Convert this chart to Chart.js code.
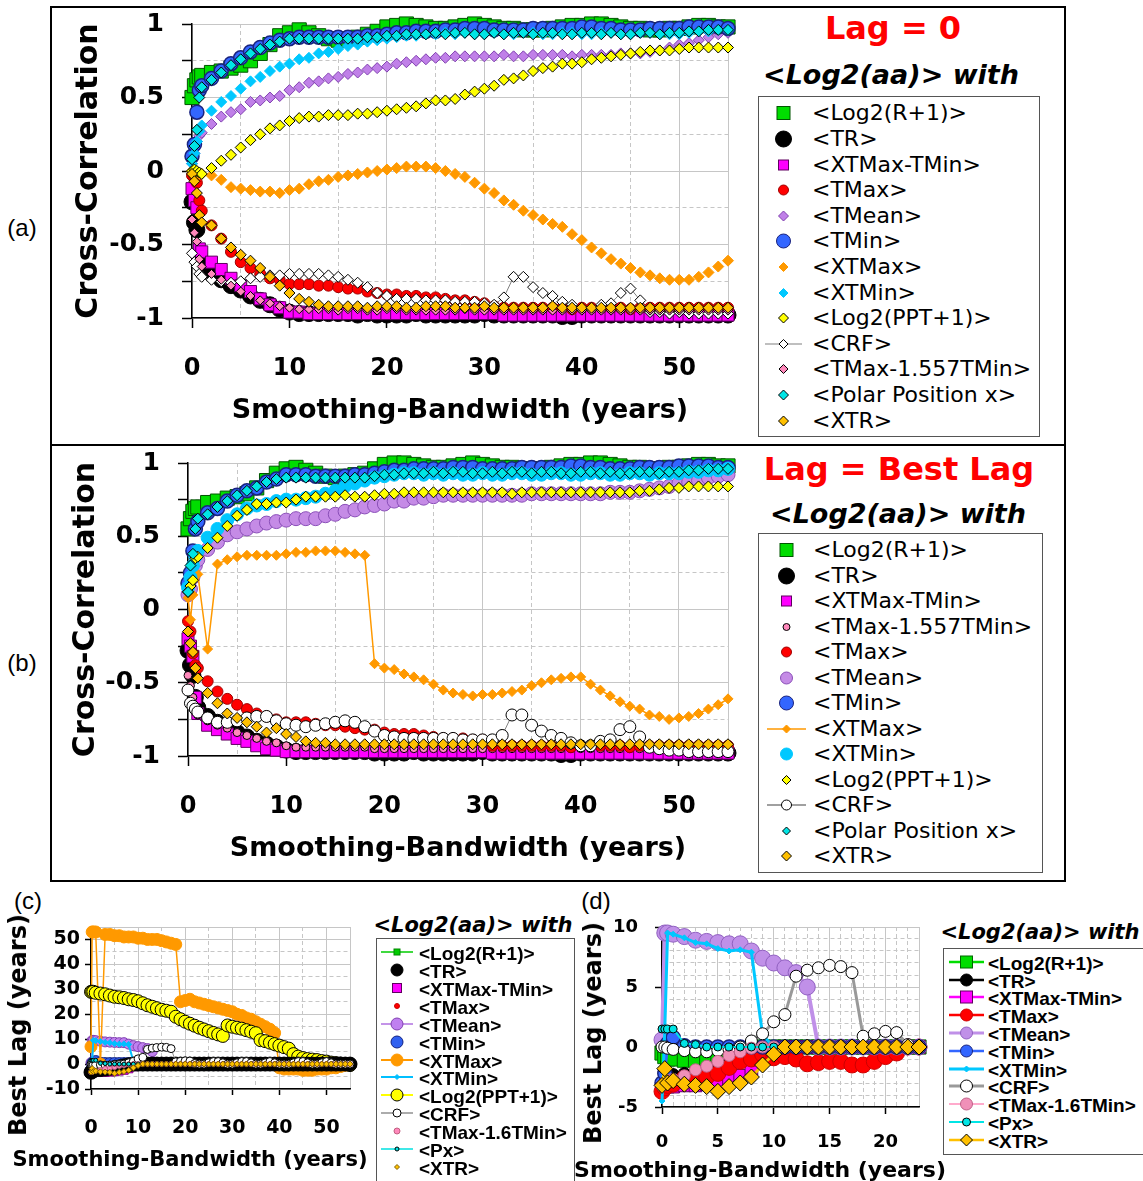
<!DOCTYPE html>
<html><head><meta charset="utf-8">
<script src="https://cdn.jsdelivr.net/npm/chart.js@4.4.0/dist/chart.umd.min.js"></script>
<style>
html,body{margin:0;padding:0;background:#fff;}
body{width:1143px;height:1181px;overflow:hidden;position:relative;font-family:'DejaVu Sans',sans-serif;}
canvas{position:absolute;}
.abs{position:absolute;white-space:nowrap;color:#000;}
.lbox{position:absolute;border:1.5px solid #555;box-sizing:border-box;}
</style></head><body>
<div class="abs" style="left:50px;top:6px;width:1016px;height:876px;border:2px solid #000;box-sizing:border-box;"></div>
<div class="abs" style="left:50px;top:444px;width:1016px;height:2px;background:#000;"></div>
<script>
// ---------------- DATA ----------------
const X_AB = [0,0.25,0.5,0.75,1,2,3,4,5,6,7,8,9,10,11,12,13,14,15,16,17,18,19,20,21,22,23,24,25,26,27,28,29,30,31,32,33,34,35,36,37,38,39,40,41,42,43,44,45,46,47,48,49,50,51,52,53,54,55];
const X_CD = [0,0.25,0.5,1,2,3,4,5,6,7,8,9,10,11,12,13,14,15,16,17,18,19,20,21,22,23,24,25,26,27,28,29,30,31,32,33,34,35,36,37,38,39,40,41,42,43,44,45,46,47,48,49,50,51,52,53,54,55];

// (a) Lag = 0
const A_R = [0.50,0.58,0.62,0.64,0.65, 0.67,0.68,0.70,0.72,0.75,0.80,0.86,0.92,0.94, 0.96,0.94,0.92,0.90,0.89,0.90,0.91,0.93,0.95,0.98, 0.99,1.00,0.99,0.98,0.97,0.97,0.98,0.99,1.00,0.99, 0.98,0.97,0.97,0.96,0.96,0.96,0.97,0.98,0.99,0.99, 1.00,1.00,0.99,0.98,0.97,0.97,0.96,0.96,0.97,0.97, 0.98,0.99,0.99,0.98,0.98];
const A_TR = [-0.21,-0.35,-0.40,-0.58,-0.63, -0.70,-0.74,-0.78,-0.81,-0.85,-0.88,-0.91,-0.94,-0.96, -0.97,-0.97,-0.97,-0.97,-0.97,-0.97,-0.98,-0.97,-0.98,-0.98, -0.98,-0.98,-0.97,-0.98,-0.98,-0.98,-0.98,-0.98,-0.98,-0.97, -0.98,-0.98,-0.98,-0.98,-0.98,-0.98,-0.98,-0.99,-0.99,-0.98, -0.98,-0.98,-0.98,-0.98,-0.98,-0.98,-0.98,-0.98,-0.98,-0.98, -0.98,-0.98,-0.98,-0.98,-0.98];
const A_XTMT = [-0.12,-0.20,-0.25,-0.53,-0.55, -0.62,-0.67,-0.73,-0.78,-0.82,-0.87,-0.91,-0.93,-0.96, -0.96,-0.97,-0.97,-0.97,-0.97,-0.97,-0.97,-0.97,-0.97,-0.97, -0.97,-0.97,-0.97,-0.97,-0.97,-0.97,-0.97,-0.97,-0.97,-0.97, -0.97,-0.98,-0.98,-0.98,-0.98,-0.98,-0.98,-0.98,-0.98,-0.98, -0.98,-0.98,-0.98,-0.98,-0.98,-0.98,-0.98,-0.98,-0.98,-0.98, -0.98,-0.98,-0.98,-0.98,-0.98];
const A_TMAX = [-0.03,-0.05,-0.08,-0.20,-0.27, -0.37,-0.46,-0.55,-0.62,-0.66,-0.70,-0.73,-0.74,-0.77, -0.77,-0.77,-0.78,-0.78,-0.79,-0.80,-0.80,-0.82,-0.83,-0.84, -0.84,-0.85,-0.85,-0.86,-0.86,-0.87,-0.88,-0.88,-0.89,-0.90, -0.92,-0.93,-0.93,-0.93,-0.93,-0.93,-0.93,-0.93,-0.94,-0.93, -0.93,-0.93,-0.93,-0.93,-0.94,-0.93,-0.93,-0.93,-0.93,-0.93, -0.93,-0.93,-0.93,-0.93,-0.93];
const A_TMEAN = [0.05,0.12,0.20,0.24,0.26, 0.32,0.37,0.40,0.42,0.47,0.48,0.50,0.51,0.55, 0.57,0.60,0.61,0.63,0.64,0.66,0.67,0.69,0.70,0.71, 0.73,0.74,0.75,0.76,0.77,0.77,0.78,0.78,0.78,0.78, 0.78,0.79,0.78,0.78,0.79,0.79,0.79,0.79,0.78,0.79, 0.79,0.79,0.79,0.80,0.80,0.80,0.81,0.82,0.84,0.86, 0.87,0.89,0.91,0.93,0.94];
const A_TMIN = [0.10,0.18,0.40,0.55,0.58, 0.63,0.68,0.73,0.77,0.81,0.84,0.87,0.89,0.90, 0.91,0.91,0.91,0.91,0.91,0.91,0.91,0.92,0.92,0.93, 0.94,0.94,0.95,0.95,0.95,0.96,0.96,0.97,0.97,0.97, 0.96,0.96,0.96,0.96,0.97,0.97,0.97,0.97,0.97,0.98, 0.98,0.97,0.97,0.96,0.96,0.96,0.97,0.97,0.97,0.97, 0.98,0.98,0.98,0.98,0.97];
const A_XTMAX = [0.00,0.00,-0.01,-0.02,-0.02, -0.03,-0.06,-0.11,-0.12,-0.13,-0.14,-0.14,-0.15,-0.13, -0.12,-0.09,-0.07,-0.06,-0.04,-0.03,-0.02,-0.01,0.00,0.01, 0.02,0.03,0.03,0.03,0.02,0.00,-0.02,-0.04,-0.08,-0.12, -0.15,-0.20,-0.23,-0.27,-0.30,-0.33,-0.36,-0.38,-0.43,-0.47, -0.52,-0.56,-0.60,-0.63,-0.66,-0.69,-0.71,-0.73,-0.74,-0.74, -0.74,-0.72,-0.69,-0.65,-0.61];
const A_XTMIN = [0.05,0.12,0.20,0.27,0.31, 0.41,0.47,0.51,0.56,0.61,0.64,0.68,0.71,0.73, 0.76,0.77,0.80,0.81,0.83,0.85,0.86,0.88,0.89,0.90, 0.91,0.92,0.92,0.93,0.93,0.94,0.93,0.94,0.93,0.93, 0.94,0.93,0.93,0.94,0.94,0.93,0.93,0.94,0.94,0.93, 0.93,0.94,0.94,0.93,0.93,0.94,0.94,0.93,0.93,0.93, 0.94,0.95,0.95,0.96,0.96];
const A_PPT = [0.00,0.01,0.00,-0.01,-0.02, 0.02,0.07,0.11,0.16,0.21,0.25,0.29,0.31,0.34, 0.36,0.37,0.37,0.38,0.38,0.38,0.39,0.39,0.40,0.41, 0.42,0.43,0.44,0.46,0.48,0.48,0.49,0.52,0.54,0.56, 0.58,0.62,0.63,0.65,0.68,0.70,0.71,0.73,0.73,0.74, 0.76,0.77,0.78,0.79,0.80,0.81,0.82,0.82,0.82,0.83, 0.84,0.84,0.84,0.84,0.84];
const A_CRF = [-0.56,-0.62,-0.65,-0.70,-0.72, -0.74,-0.75,-0.76,-0.75,-0.73,-0.72,-0.71,-0.71,-0.70, -0.70,-0.70,-0.70,-0.71,-0.72,-0.74,-0.76,-0.79,-0.83,-0.85, -0.87,-0.87,-0.87,-0.88,-0.88,-0.88,-0.89,-0.89,-0.89,-0.90, -0.91,-0.86,-0.72,-0.72,-0.79,-0.83,-0.85,-0.89,-0.91,-0.94, -0.94,-0.91,-0.90,-0.83,-0.80,-0.88,-0.96,-0.96,-0.97,-0.96, -0.97,-0.97,-0.97,-0.97,-0.97];
const A_PINK = [-0.33,-0.42,-0.48,-0.60,-0.65, -0.70,-0.74,-0.78,-0.82,-0.85,-0.88,-0.90,-0.92,-0.93, -0.94,-0.94,-0.94,-0.94,-0.95,-0.94,-0.94,-0.95,-0.95,-0.94, -0.94,-0.95,-0.95,-0.95,-0.95,-0.95,-0.95,-0.94,-0.95,-0.95, -0.95,-0.95,-0.95,-0.95,-0.95,-0.95,-0.95,-0.95,-0.95,-0.95, -0.95,-0.95,-0.95,-0.95,-0.95,-0.95,-0.95,-0.95,-0.95,-0.95, -0.95,-0.95,-0.95,-0.95,-0.95];
const A_PX = [0.08,0.17,0.28,0.50,0.57, 0.62,0.67,0.72,0.76,0.80,0.83,0.86,0.88,0.90, 0.90,0.90,0.90,0.90,0.90,0.90,0.90,0.91,0.91,0.92, 0.92,0.93,0.93,0.93,0.94,0.93,0.94,0.94,0.93,0.93, 0.94,0.93,0.94,0.94,0.93,0.94,0.94,0.93,0.93,0.94, 0.94,0.93,0.94,0.93,0.93,0.94,0.94,0.93,0.94,0.94, 0.95,0.95,0.96,0.96,0.96];
const A_XTR = [-0.02,-0.07,-0.15,-0.30,-0.35, -0.37,-0.46,-0.52,-0.57,-0.61,-0.66,-0.72,-0.78,-0.83, -0.87,-0.89,-0.91,-0.92,-0.92,-0.92,-0.92,-0.93,-0.92,-0.92, -0.92,-0.93,-0.93,-0.92,-0.92,-0.92,-0.93,-0.93,-0.93,-0.92, -0.93,-0.93,-0.93,-0.93,-0.93,-0.93,-0.92,-0.93,-0.93,-0.93, -0.93,-0.93,-0.93,-0.93,-0.93,-0.93,-0.93,-0.93,-0.93,-0.93, -0.93,-0.93,-0.93,-0.93,-0.93];

// (b) Lag = Best Lag
const B_R = [0.55,0.62,0.67,0.69,0.70, 0.73,0.74,0.76,0.77,0.79,0.83,0.88,0.93,0.96, 0.97,0.95,0.93,0.91,0.90,0.91,0.92,0.93,0.96,0.99, 1.00,1.00,0.99,0.98,0.97,0.97,0.98,0.99,1.00,0.99, 0.98,0.97,0.97,0.96,0.96,0.96,0.97,0.98,0.99,0.99, 1.00,1.00,0.99,0.98,0.97,0.97,0.96,0.96,0.97,0.97, 0.98,0.99,0.99,0.98,0.98];
const B_TR = [-0.28,-0.38,-0.45,-0.60,-0.67, -0.73,-0.77,-0.80,-0.84,-0.87,-0.90,-0.92,-0.94,-0.96, -0.97,-0.97,-0.97,-0.97,-0.97,-0.97,-0.97,-0.97,-0.98,-0.98, -0.98,-0.98,-0.97,-0.98,-0.98,-0.98,-0.98,-0.98,-0.98,-0.97, -0.98,-0.98,-0.98,-0.98,-0.98,-0.98,-0.98,-0.99,-0.99,-0.98, -0.98,-0.98,-0.98,-0.98,-0.98,-0.98,-0.98,-0.98,-0.98,-0.98, -0.98,-0.98,-0.98,-0.98,-0.98];
const B_XTMT = [-0.20,-0.25,-0.32,-0.60,-0.71, -0.79,-0.82,-0.85,-0.88,-0.90,-0.93,-0.95,-0.96,-0.97, -0.97,-0.97,-0.97,-0.97,-0.97,-0.97,-0.97,-0.97,-0.97,-0.97, -0.97,-0.97,-0.97,-0.97,-0.97,-0.97,-0.97,-0.97,-0.97,-0.97, -0.98,-0.98,-0.98,-0.98,-0.98,-0.98,-0.98,-0.98,-0.98,-0.98, -0.98,-0.98,-0.98,-0.98,-0.98,-0.98,-0.98,-0.98,-0.98,-0.98, -0.98,-0.98,-0.98,-0.98,-0.98];
const B_PINK = [-0.45,-0.52,-0.60,-0.68,-0.72, -0.76,-0.79,-0.81,-0.84,-0.86,-0.88,-0.90,-0.91,-0.93, -0.94,-0.94,-0.94,-0.94,-0.94,-0.94,-0.94,-0.94,-0.95,-0.95, -0.95,-0.95,-0.95,-0.95,-0.95,-0.95,-0.95,-0.95,-0.95,-0.95, -0.95,-0.95,-0.95,-0.95,-0.95,-0.95,-0.95,-0.95,-0.95,-0.95, -0.95,-0.95,-0.95,-0.95,-0.95,-0.95,-0.95,-0.95,-0.95,-0.95, -0.95,-0.95,-0.95,-0.95,-0.95];
const B_TMAX = [-0.08,-0.15,-0.30,-0.38,-0.40, -0.49,-0.56,-0.61,-0.65,-0.68,-0.71,-0.73,-0.75,-0.77, -0.77,-0.77,-0.78,-0.79,-0.79,-0.80,-0.81,-0.82,-0.82,-0.84, -0.85,-0.85,-0.85,-0.86,-0.87,-0.88,-0.88,-0.88,-0.89,-0.89, -0.93,-0.93,-0.93,-0.93,-0.93,-0.93,-0.93,-0.93,-0.94,-0.93, -0.93,-0.93,-0.93,-0.93,-0.94,-0.93,-0.93,-0.93,-0.93,-0.93, -0.93,-0.93,-0.93,-0.93,-0.93];
const B_TMEAN = [0.10,0.14,0.22,0.30,0.34, 0.41,0.46,0.51,0.53,0.55,0.57,0.59,0.60,0.61, 0.62,0.62,0.62,0.64,0.65,0.67,0.68,0.70,0.71,0.72, 0.74,0.74,0.76,0.76,0.77,0.78,0.78,0.78,0.78,0.78, 0.78,0.78,0.78,0.78,0.79,0.79,0.79,0.79,0.79,0.79, 0.79,0.79,0.80,0.80,0.80,0.81,0.82,0.83,0.84,0.86, 0.87,0.88,0.90,0.91,0.92];
const B_TMIN = [0.18,0.25,0.40,0.55,0.60, 0.66,0.69,0.74,0.78,0.81,0.83,0.87,0.89,0.92, 0.92,0.92,0.91,0.91,0.91,0.91,0.92,0.92,0.93,0.94, 0.95,0.95,0.96,0.96,0.96,0.96,0.97,0.97,0.97,0.96, 0.96,0.96,0.96,0.97,0.97,0.97,0.97,0.97,0.98,0.98, 0.97,0.97,0.96,0.96,0.96,0.97,0.97,0.97,0.97,0.98, 0.98,0.98,0.98,0.97,0.97];
const B_XTMAX = [0.08,-0.07,0.10,0.25,0.24, -0.27,0.31,0.34,0.36,0.37,0.37,0.37,0.37,0.38, 0.39,0.39,0.40,0.40,0.40,0.39,0.38,0.37,-0.37,-0.40, -0.41,-0.44,-0.46,-0.48,-0.51,-0.55,-0.57,-0.58,-0.59,-0.58, -0.58,-0.57,-0.56,-0.55,-0.52,-0.50,-0.48,-0.47,-0.46,-0.46, -0.51,-0.55,-0.59,-0.63,-0.66,-0.68,-0.72,-0.73,-0.75,-0.74, -0.73,-0.71,-0.68,-0.65,-0.61];
const B_XTMIN = [0.15,0.22,0.30,0.36,0.40, 0.49,0.55,0.61,0.65,0.69,0.71,0.72,0.74,0.75, 0.75,0.76,0.77,0.79,0.81,0.84,0.86,0.88,0.90,0.91, 0.92,0.93,0.93,0.92,0.93,0.92,0.93,0.92,0.92,0.93, 0.92,0.92,0.93,0.93,0.92,0.92,0.93,0.93,0.92,0.92, 0.93,0.93,0.92,0.92,0.93,0.93,0.92,0.93,0.93,0.93, 0.94,0.94,0.95,0.95,0.96];
const B_PPT = [0.12,0.16,0.20,0.35,0.36, 0.42,0.49,0.57,0.64,0.68,0.72,0.72,0.73,0.73, 0.75,0.77,0.77,0.77,0.77,0.78,0.77,0.77,0.78,0.79, 0.79,0.80,0.80,0.80,0.80,0.80,0.80,0.80,0.80,0.80, 0.80,0.80,0.79,0.80,0.80,0.80,0.80,0.80,0.80,0.80, 0.80,0.80,0.80,0.80,0.80,0.81,0.81,0.82,0.83,0.83, 0.84,0.84,0.84,0.84,0.84];
const B_CRF = [-0.55,-0.64,-0.66,-0.68,-0.70, -0.74,-0.77,-0.77,-0.76,-0.74,-0.73,-0.73,-0.76,-0.78, -0.79,-0.80,-0.79,-0.78,-0.77,-0.76,-0.77,-0.80,-0.83,-0.86, -0.87,-0.88,-0.88,-0.88,-0.88,-0.88,-0.88,-0.89,-0.89,-0.89, -0.89,-0.86,-0.72,-0.72,-0.79,-0.83,-0.86,-0.88,-0.91,-0.93, -0.93,-0.90,-0.89,-0.82,-0.80,-0.87,-0.94,-0.95,-0.96,-0.96, -0.97,-0.97,-0.97,-0.97,-0.97];
const B_PX = [0.12,0.30,0.38,0.55,0.62, 0.65,0.70,0.74,0.78,0.81,0.84,0.87,0.89,0.90, 0.90,0.90,0.90,0.90,0.90,0.90,0.90,0.90,0.91,0.92, 0.92,0.93,0.93,0.93,0.94,0.93,0.94,0.94,0.93,0.93, 0.94,0.93,0.94,0.94,0.93,0.94,0.94,0.93,0.93,0.94, 0.94,0.93,0.94,0.93,0.93,0.94,0.94,0.93,0.94,0.94, 0.95,0.95,0.96,0.96,0.96];
const B_XTR = [-0.15,-0.23,-0.29,-0.40,-0.47, -0.57,-0.64,-0.71,-0.74,-0.77,-0.80,-0.84,-0.81,-0.85, -0.87,-0.90,-0.91,-0.91,-0.92,-0.92,-0.92,-0.92,-0.92,-0.92, -0.92,-0.92,-0.92,-0.92,-0.92,-0.92,-0.92,-0.92,-0.92,-0.92, -0.92,-0.92,-0.92,-0.92,-0.92,-0.92,-0.92,-0.92,-0.92,-0.92, -0.92,-0.92,-0.92,-0.92,-0.92,-0.92,-0.92,-0.92,-0.92,-0.92, -0.92,-0.92,-0.92,-0.92,-0.92];

// (c) and (d) Best Lag (years)
const C_R = [-0.5,-0.8,-1.0,-1.0, -1.1,-1.1,-1.0,-0.8,-0.5,-0.3,-0.2,0,0, 0,0,0,0,0,0,0,0,0,0, 0,0,0,0,0,0,0,0,0,0, 0,0,0,0,0,0,0,0,0,0, 0,0,0,0,0,0,0,0,0,0, 0,0,0,0,0];
const C_TR = [-3.3,-3.0,-2.6,-2.3, -2.2,-2.0,-1.7,-1.4,-1.1,-0.7,-0.3,0,0, 0,0,0,0,0,0,0,0,0,0, 0,0,0,0,0,0,0,0,0,0, 0,0,0,0,0,0,0,0,0,0, 0,0,0,0,0,0,0,0,0,0, 0,0,0,0,0];
const C_XTMT = [-3.5,-3.3,-3.3,-3.3, -3.2,-3.2,-3.1,-3.0,-2.7,-2.4,-1.8,-1.0,0, 0,0,0,0,0,0,0,0,0,0, 0,0,0,0,0,0,0,0,0,0, 0,0,0,0,0,0,0,0,0,0, 0,0,0,0,0,0,0,0,0,0, 0,0,0,0,0];
const C_TMAX = [-3.7,-3.4,-3.2,-3.1, -2.6,-2.8,-2.5,-2.2,-1.7,-1.2,-1.0,-0.6,-0.9, -0.8,-1.0,-1.4,-1.3,-1.2,-1.2,-1.5,-1.5,-1.2,-0.8, -0.5,0,0,0,0,0,0,0,0,0, 0,0,0,0,0,0,0,0,0,0, 0,0,0,0,0,0,0,0,0,0, 0,0,0,0,0];
const C_TMEAN = [0.6,9.5,9.5,9.4, 9.2,8.9,8.8,8.7,8.6,8.6,8.0,7.4,7.0, 6.6,6.2,5.0,0,0,0,0,0,0,0, 0,0,0,0,0,0,0,0,0,0, 0,0,0,0,0,0,0,0,0,0, 0,0,0,0,0,0,0,0,0,0, 0,0,0,0,0];
const C_TMIN = [-3.0,-2.2,0.3,0.8, 0.1,0,0,0,0,0,0,0,0, 0,0,0,0,0,0,0,0,0,0, 0,0,0,0,0,0,0,0,0,0, 0,0,0,0,0,0,0,0,0,0, 0,0,0,0,0,0,0,0,0,0, 0,0,0,0,0];
const C_XTMAX = [7,53,53,53, 0,52,52,51.5,51.5,51,51,51,50.5, 50.5,50,50,50,49.5,49,48.5,48,25,25.5, 26,25,24.5,24,23.5,23,22.5,22,21.5,21, 20,19.5,18.5,18,17,16,15,14,12.5,-1.5, -2,-2,-2,-2,-2.5,-2.5,-2.5,-2,-2,-2, -1.5,-1.5,-1,-0.5,0];
const C_XTMIN = [-4.5,1.5,9.5,9.4, 9.1,8.7,8.6,8.2,8.0,8.1,7.9,1.0,0, 0,0,0,0,0,0,0,0,0,0, 0,0,0,0,0,0,0,0,0,0, 0,0,0,0,0,0,0,0,0,0, 0,0,0,0,0,0,0,0,0,0, 0,0,0,0,0];
const C_PPT = [29,29,29,28.6, 28.3,28,27.5,27,26.8,26.5,26,25.7,25.2, 24.4,23.6,23,22.4,21.8,21.4,21,19,18,17, 16.2,15.4,14.6,13.9,13.2,12.5,11.9,11.3,15.5,15, 14.6,14.2,13.6,13,12.4,9.6,9.2,8.6,8,7.4, 6.8,6.2,4,3,2.4,2,1.8,1.6,1.2,1, 0.6,0.4,0.2,0,-0.4];
const C_CRF = [0,0,-0.1,-0.2, -0.3,-0.4,-0.4,-0.3,-0.2,0,0.5,1.1,2.1, 2.7,5.9,6.4,6.6,6.8,6.7,6.2,0.9,1.1,1.3, 1.2,0.2,0,0,0.5,1,1,0.5,0,0, 0.5,1,1,0.5,0,0,0.5,1,0.5,0, 0,0,0.5,1,1,0.5,0,0,0.5,1, 0.5,0,0,0,0];
const C_PINK = [-3.2,-3.0,-2.8,-2.7, -2.4,-1.9,-1.6,-1.2,-0.7,-0.4,-0.1,0,0, 0,0,0,0,0,0,0,0,0,0, 0,0,0,0,0,0,0,0,0,0, 0,0,0,0,0,0,0,0,0,0, 0,0,0,0,0,0,0,0,0,0, 0,0,0,0,0];
const C_PX = [1.5,1.5,1.5,1.5, 0.3,0.2,0,0,0,0,0,0,0, 0,0,0,0,0,0,0,0,0,0, 0,0,0,0,0,0,0,0,0,0, 0,0,0,0,0,0,0,0,0,0, 0,0,0,0,0,0,0,0,0,0, 0,0,0,0,0];
const C_XTR = [-3.2,-1.8,-3.0,-2.8, -3.1,-3.2,-3.3,-3.7,-3.3,-3.0,-2.5,-1.5,-0.6, 0,0,0,0,0,0,0,0,0,0, 0,0,0,0,0,0,0,0,0,0, 0,0,0,0,0,0,0,0,0,0, 0,0,0,0,0,0,0,0,0,0, 0,0,0,0,0];

// Labels
const LAB_A = ['<Log2(R+1)>','<TR>','<XTMax-TMin>','<TMax>','<TMean>','<TMin>','<XTMax>','<XTMin>','<Log2(PPT+1)>','<CRF>','<TMax-1.557TMin>','<Polar Position x>','<XTR>'];
const LAB_B = ['<Log2(R+1)>','<TR>','<XTMax-TMin>','<TMax-1.557TMin>','<TMax>','<TMean>','<TMin>','<XTMax>','<XTMin>','<Log2(PPT+1)>','<CRF>','<Polar Position x>','<XTR>'];
const LAB_C = ['<Log2(R+1)>','<TR>','<XTMax-TMin>','<TMax>','<TMean>','<TMin>','<XTMax>','<XTMin>','<Log2(PPT+1)>','<CRF>','<TMax-1.6TMin>','<Px>','<XTR>'];
const LAB_D = ['<Log2(R+1)>','<TR>','<XTMax-TMin>','<TMax>','<TMean>','<TMin>','<XTMin>','<CRF>','<TMax-1.6TMin>','<Px>','<XTR>'];

// ---------------- HELPERS ----------------
Chart.defaults.font.family = "'DejaVu Sans', sans-serif";
Chart.defaults.color = '#000';
const GRID = '#c6c6c6';
function near(v, m) { const r = v / m; return Math.abs(r - Math.round(r)) < 1e-6; }

function axis(o) {
  const solid = v => near(v, o.solid) || Math.abs(v - o.max) < 1e-9 || Math.abs(v - o.min) < 1e-9;
  return {
    type: 'linear', position: o.pos, min: o.min, max: o.max,
    afterFit(s) {
      if (o.pos === 'bottom') { s.height = o.size; }
      else { s.width = o.size; s.paddingTop = 0; s.paddingBottom = 0; }
    },
    ticks: { stepSize: o.step, autoSkip: false, maxRotation: 0, minRotation: 0, padding: o.pad, color: '#000',
      font: { size: o.fs, weight: 'bold' },
      callback: v => near(v, o.lab) ? String(+Number(v).toFixed(2)) : '' },
    grid: { color: GRID, lineWidth: 1, drawTicks: true, tickLength: o.tl, tickWidth: 1.5,
      tickColor: c => (c.tick && near(c.tick.value, o.tickEvery)) ? '#000' : 'rgba(0,0,0,0)' },
    border: { display: true, color: '#000', width: 1.5,
      dash: c => (c.tick && !solid(c.tick.value)) ? [4, 3] : [] },
    title: o.title ? { display: true, text: o.title, color: '#000', font: { size: o.tfs, weight: 'bold' }, padding: o.tpad } : { display: false }
  };
}

function ds(X, Y, s, order, xmax) {
  const pts = [];
  X.forEach((x, i) => { if (Y[i] !== undefined && (xmax === undefined || x <= xmax)) pts.push({ x, y: Y[i] }); });
  return {
    data: pts, showLine: !!s.line, borderColor: s.line || 'rgba(0,0,0,0)', borderWidth: s.lw || 1,
    pointStyle: s.shape, pointRadius: s.r, pointHoverRadius: s.r,
    pointBackgroundColor: s.fill, pointBorderColor: s.stroke || s.fill, pointBorderWidth: s.sw === undefined ? 1 : s.sw,
    clip: false, order: order, tension: 0
  };
}

function makeChart(box, xo, yo, datasets, pad) {
  const cv = document.createElement('canvas');
  cv.width = box.w; cv.height = box.h;
  Object.assign(cv.style, { left: box.l + 'px', top: box.t + 'px', width: box.w + 'px', height: box.h + 'px' });
  document.body.appendChild(cv);
  return new Chart(cv.getContext('2d'), {
    type: 'scatter',
    data: { datasets },
    options: {
      responsive: false, animation: false, devicePixelRatio: 1, events: [],
      layout: { padding: pad },
      plugins: { legend: { display: false }, tooltip: { enabled: false }, title: { display: false } },
      scales: { x: axis(xo), y: axis(yo) }
    }
  });
}

function svgSym(s, w) {
  const h = 22, cx = w / 2, cy = h / 2, r = s.size / 2;
  let o = '<svg width="' + w + '" height="' + h + '" style="overflow:visible;display:block">';
  if (s.line) o += '<line x1="0" y1="' + cy + '" x2="' + w + '" y2="' + cy + '" stroke="' + s.line + '" stroke-width="' + (s.lw || 1.5) + '"/>';
  const st = ' fill="' + s.fill + '" stroke="' + s.stroke + '" stroke-width="' + (s.sw || 1) + '"';
  if (s.shape === 'circle') o += '<circle cx="' + cx + '" cy="' + cy + '" r="' + r + '"' + st + '/>';
  else if (s.shape === 'rect') o += '<rect x="' + (cx - r) + '" y="' + (cy - r) + '" width="' + (2 * r) + '" height="' + (2 * r) + '"' + st + '/>';
  else o += '<polygon points="' + cx + ',' + (cy - r) + ' ' + (cx + r) + ',' + cy + ' ' + cx + ',' + (cy + r) + ' ' + (cx - r) + ',' + cy + '"' + st + '/>';
  return o + '</svg>';
}

function legend(cfg) {
  const b = document.createElement('div');
  b.className = 'lbox';
  Object.assign(b.style, { left: cfg.box.l + 'px', top: cfg.box.t + 'px', width: cfg.box.w + 'px', height: cfg.box.h + 'px' });
  document.body.appendChild(b);
  cfg.labels.forEach((lab, i) => {
    const y = cfg.y0 + i * cfg.dy;
    const s = document.createElement('div');
    s.className = 'abs';
    Object.assign(s.style, { left: (cfg.x0 - cfg.lw / 2) + 'px', top: (y - 11) + 'px' });
    s.innerHTML = svgSym(cfg.syms[i], cfg.lw);
    document.body.appendChild(s);
    const t = document.createElement('div');
    t.className = 'abs';
    t.textContent = lab;
    Object.assign(t.style, { left: cfg.tx + 'px', top: (y - cfg.lh / 2) + 'px', height: cfg.lh + 'px', lineHeight: cfg.lh + 'px', font: cfg.font });
    document.body.appendChild(t);
  });
}

function text(str, cx, cy, font, color, rot) {
  const d = document.createElement('div');
  d.className = 'abs';
  d.textContent = str;
  Object.assign(d.style, { left: cx + 'px', top: cy + 'px', font: font, color: color || '#000',
    transform: 'translate(-50%,-50%)' + (rot ? ' rotate(' + rot + 'deg)' : '') });
  document.body.appendChild(d);
}

// ---------------- STYLES ----------------
const S = {
  R:    { shape: 'rect', r: 10, fill: '#00DD00', stroke: '#005500' },
  TR:   { shape: 'circle', r: 8, fill: '#000000', stroke: '#000000' },
  XTMT: { shape: 'rect', r: 8.5, fill: '#FF00FF', stroke: '#600060' },
  TMAX: { shape: 'circle', r: 5.5, fill: '#FF0000', stroke: '#A00000' },
  TMEAN:{ shape: 'rectRot', r: 5.5, fill: '#C080E8', stroke: '#8040B0' },
  TMIN: { shape: 'circle', r: 7, fill: '#3366FF', stroke: '#1A237E', sw: 1.5 },
  XTMAX:{ shape: 'rectRot', r: 5.5, fill: '#FF9900', stroke: '#FF9900' },
  XTMIN:{ shape: 'rectRot', r: 5.5, fill: '#00C8FF', stroke: '#00C8FF' },
  PPT:  { shape: 'rectRot', r: 5.5, fill: '#FFFF00', stroke: '#000000' },
  CRF:  { shape: 'rectRot', r: 5.5, fill: '#FFFFFF', stroke: '#000000', line: '#808080', lw: 1 },
  PINK: { shape: 'rectRot', r: 4.5, fill: '#FF88BB', stroke: '#000000' },
  PX:   { shape: 'rectRot', r: 5.5, fill: '#00E5E5', stroke: '#000000' },
  XTR:  { shape: 'rectRot', r: 5.5, fill: '#FFC000', stroke: '#000000' }
};
const SB = Object.assign({}, S, {
  PINK: { shape: 'circle', r: 4, fill: '#FF88BB', stroke: '#000000' },
  TMEAN:{ shape: 'circle', r: 7, fill: '#C58BE6', stroke: '#8A4FB8' },
  XTMAX:{ shape: 'rectRot', r: 5, fill: '#FF9900', stroke: '#FF9900', line: '#FF9900', lw: 1.5 },
  XTMIN:{ shape: 'circle', r: 6.5, fill: '#00C8FF', stroke: '#00C8FF' },
  CRF:  { shape: 'circle', r: 6, fill: '#FFFFFF', stroke: '#000000', line: '#808080', lw: 1 }
});

// ---------------- PANEL (a) ----------------
const serA = [[A_R,S.R],[A_TR,S.TR],[A_XTMT,S.XTMT],[A_TMAX,S.TMAX],[A_TMEAN,S.TMEAN],[A_TMIN,S.TMIN],[A_XTMAX,S.XTMAX],[A_XTMIN,S.XTMIN],[A_PPT,S.PPT],[A_CRF,S.CRF],[A_PINK,S.PINK],[A_PX,S.PX],[A_XTR,S.XTR]];
makeChart({ l: 54, t: 9, w: 700, h: 434 },
  { pos: 'bottom', min: 0, max: 55, step: 5, lab: 10, solid: 10, tickEvery: 10, size: 125, pad: 26, fs: 24, tl: 10,
    title: 'Smoothing-Bandwidth (years)', tfs: 27, tpad: { top: 0, bottom: 16 } },
  { pos: 'left', min: -1, max: 1, step: 0.25, lab: 0.5, solid: 0.5, tickEvery: 0.25, size: 138, pad: 18, fs: 25, tl: 10,
    title: 'Cross-Correlation', tfs: 30, tpad: { top: 17, bottom: 0 } },
  serA.map((p, i) => ds(X_AB, p[0], p[1], serA.length - i)),
  { left: 0, right: 6, top: 15, bottom: 0 });

// ---------------- PANEL (b) ----------------
const serB = [[B_R,SB.R],[B_TR,SB.TR],[B_XTMT,SB.XTMT],[B_PINK,SB.PINK],[B_TMAX,SB.TMAX],[B_TMEAN,SB.TMEAN],[B_TMIN,SB.TMIN],[B_XTMAX,SB.XTMAX],[B_XTMIN,SB.XTMIN],[B_PPT,SB.PPT],[B_CRF,SB.CRF],[B_PX,SB.PX],[B_XTR,SB.XTR]];
makeChart({ l: 54, t: 447, w: 700, h: 431 },
  { pos: 'bottom', min: 0, max: 55, step: 5, lab: 10, solid: 10, tickEvery: 10, size: 122, pad: 26, fs: 24, tl: 10,
    title: 'Smoothing-Bandwidth (years)', tfs: 27, tpad: { top: 0, bottom: 13 } },
  { pos: 'left', min: -1, max: 1, step: 0.25, lab: 0.5, solid: 0.5, tickEvery: 0.25, size: 134, pad: 18, fs: 25, tl: 10,
    title: 'Cross-Correlation', tfs: 30, tpad: { top: 14, bottom: 0 } },
  serB.map((p, i) => ds(X_AB, p[0], p[1], serB.length - i)),
  { left: 0, right: 6, top: 16, bottom: 0 });

// ---------------- PANEL (c) ----------------
const SC = {
  R:    { shape: 'rect', r: 4.5, fill: '#00CC00', stroke: '#008800', line: '#00CC00', lw: 1.5 },
  TR:   { shape: 'circle', r: 7, fill: '#000000', stroke: '#000000' },
  XTMT: { shape: 'rect', r: 6, fill: '#FF00FF', stroke: '#800080' },
  TMAX: { shape: 'circle', r: 2.5, fill: '#FF0000', stroke: '#CC0000' },
  TMEAN:{ shape: 'circle', r: 5, fill: '#C080F0', stroke: '#8040B0', line: '#B070E0', lw: 1.5 },
  TMIN: { shape: 'circle', r: 6.5, fill: '#3060F0', stroke: '#102080' },
  XTMAX:{ shape: 'circle', r: 6, fill: '#FF9900', stroke: '#FF9900', line: '#FF9900', lw: 1.5 },
  XTMIN:{ shape: 'rectRot', r: 3, fill: '#00BFFF', stroke: '#00BFFF', line: '#00BFFF', lw: 2 },
  PPT:  { shape: 'circle', r: 6.5, fill: '#FFFF00', stroke: '#000000', line: '#FFFF00', lw: 1.5 },
  CRF:  { shape: 'circle', r: 4, fill: '#FFFFFF', stroke: '#000000', line: '#909090', lw: 1 },
  PINK: { shape: 'circle', r: 2.5, fill: '#FF88BB', stroke: '#C06080' },
  PX:   { shape: 'circle', r: 2, fill: '#00E0E0', stroke: '#000000', line: '#00E0E0', lw: 1 },
  XTR:  { shape: 'rectRot', r: 3, fill: '#FFC000', stroke: '#806000' }
};
const serC = [[C_R,SC.R,13],[C_TR,SC.TR,5],[C_XTMT,SC.XTMT,12],[C_TMAX,SC.TMAX,11],[C_TMEAN,SC.TMEAN,10],[C_TMIN,SC.TMIN,9],[C_XTMAX,SC.XTMAX,8],[C_XTMIN,SC.XTMIN,7],[C_PPT,SC.PPT,6],[C_CRF,SC.CRF,4],[C_PINK,SC.PINK,3],[C_PX,SC.PX,2],[C_XTR,SC.XTR,1]];
makeChart({ l: 30, t: 915, w: 342, h: 235 },
  { pos: 'bottom', min: 0, max: 55, step: 5, lab: 10, solid: 10, tickEvery: 10, size: 61, pad: 22, fs: 19, tl: 6 },
  { pos: 'left', min: -10, max: 55, step: 5, lab: 10, solid: 10, tickEvery: 10, size: 61, pad: 5, fs: 19, tl: 6 },
  serC.map(p => ds(X_CD, p[0], p[1], p[2])),
  { left: 0, right: 5, top: 12, bottom: 0 });

// ---------------- PANEL (d) ----------------
const SD = {
  R:    { shape: 'rect', r: 10, fill: '#00DD00', stroke: '#006600', line: '#00DD00', lw: 3 },
  TR:   { shape: 'circle', r: 6, fill: '#000000', stroke: '#000000', line: '#000000', lw: 3 },
  XTMT: { shape: 'rect', r: 9, fill: '#FF00FF', stroke: '#600060', line: '#FF00FF', lw: 3 },
  TMAX: { shape: 'circle', r: 8, fill: '#FF0000', stroke: '#CC0000', line: '#FF0000', lw: 3 },
  TMEAN:{ shape: 'circle', r: 8, fill: '#C090E8', stroke: '#9060C0', line: '#C090E8', lw: 4 },
  TMIN: { shape: 'circle', r: 7, fill: '#3366FF', stroke: '#1A237E', sw: 1.5, line: '#3366FF', lw: 3 },
  XTMIN:{ shape: 'rectRot', r: 3, fill: '#00C8FF', stroke: '#00C8FF', line: '#00C8FF', lw: 3 },
  CRF:  { shape: 'circle', r: 6, fill: '#FFFFFF', stroke: '#000000', line: '#999999', lw: 3 },
  PINK: { shape: 'circle', r: 6, fill: '#F090B8', stroke: '#C06088', line: '#FFAACC', lw: 2 },
  PX:   { shape: 'circle', r: 4, fill: '#00E5E5', stroke: '#000000', line: '#00E5E5', lw: 2 },
  XTR:  { shape: 'rectRot', r: 8, fill: '#FFC000', stroke: '#000000', line: '#FFC000', lw: 3 }
};
const serD = [[C_R,SD.R],[C_TR,SD.TR],[C_XTMT,SD.XTMT],[C_TMAX,SD.TMAX],[C_TMEAN,SD.TMEAN],[C_TMIN,SD.TMIN],[C_XTMIN,SD.XTMIN],[C_CRF,SD.CRF],[C_PINK,SD.PINK],[C_PX,SD.PX],[C_XTR,SD.XTR]];
makeChart({ l: 605, t: 915, w: 332, h: 250 },
  { pos: 'bottom', min: 0, max: 23, step: 1, lab: 5, solid: 5, tickEvery: 5, size: 58, pad: 18, fs: 18, tl: 7 },
  { pos: 'left', min: -5, max: 10, step: 1, lab: 5, solid: 5, tickEvery: 5, size: 57, pad: 17, fs: 18, tl: 7 },
  serD.map((p, i) => ds(X_CD, p[0], p[1], serD.length - i, 23)),
  { left: 0, right: 5, top: 12, bottom: 0 });

// ---------------- TEXT & LEGENDS ----------------
const BI = "italic bold 27px 'DejaVu Sans'";
text('Lag = 0', 893, 28, "bold 32px 'DejaVu Sans'", '#FF0000');
text('<Log2(aa)> with', 891, 74, BI);
text('Lag = Best Lag', 899, 469, "bold 32px 'DejaVu Sans'", '#FF0000');
text('<Log2(aa)> with', 898, 513, BI);
text('<Log2(aa)> with', 473, 925, "italic bold 21px 'DejaVu Sans'");
text('<Log2(aa)> with', 1040, 932, "italic bold 21px 'DejaVu Sans'");
text('(a)', 22, 228, "24px 'Liberation Sans'");
text('(b)', 22, 663, "24px 'Liberation Sans'");
text('(c)', 28, 901, "24px 'Liberation Sans'");
text('(d)', 596, 901, "24px 'Liberation Sans'");
text('Best Lag (years)', 18, 1025, "bold 24px 'DejaVu Sans'", '#000', -90);
text('Smoothing-Bandwidth (years)', 190, 1159, "bold 21px 'DejaVu Sans'");
text('Best Lag (years)', 593, 1033, "bold 24px 'DejaVu Sans'", '#000', -90);
text('Smoothing-Bandwidth (years)', 760, 1169, "bold 22px 'DejaVu Sans'");

const symA = [
  { shape: 'rect', size: 13, fill: '#00DD00', stroke: '#005500' },
  { shape: 'circle', size: 16, fill: '#000', stroke: '#000' },
  { shape: 'rect', size: 10, fill: '#FF00FF', stroke: '#600060' },
  { shape: 'circle', size: 10, fill: '#FF0000', stroke: '#A00000' },
  { shape: 'diamond', size: 10, fill: '#C080E8', stroke: '#8040B0' },
  { shape: 'circle', size: 14, fill: '#3366FF', stroke: '#1A237E' },
  { shape: 'diamond', size: 9, fill: '#FF9900', stroke: '#FF9900' },
  { shape: 'diamond', size: 9, fill: '#00C8FF', stroke: '#00C8FF' },
  { shape: 'diamond', size: 10, fill: '#FFFF00', stroke: '#000' },
  { shape: 'diamond', size: 9, fill: '#FFF', stroke: '#000', line: '#808080', lw: 1.2 },
  { shape: 'diamond', size: 9, fill: '#FF88BB', stroke: '#000' },
  { shape: 'diamond', size: 10, fill: '#00E5E5', stroke: '#000' },
  { shape: 'diamond', size: 10, fill: '#FFC000', stroke: '#000' }
];
legend({ box: { l: 758, t: 96, w: 282, h: 341 }, labels: LAB_A, syms: symA, x0: 783, tx: 812, y0: 113.3, dy: 25.6, lw: 37, lh: 26, font: "22px 'DejaVu Sans'" });

const symB = [
  { shape: 'rect', size: 13, fill: '#00DD00', stroke: '#005500' },
  { shape: 'circle', size: 16, fill: '#000', stroke: '#000' },
  { shape: 'rect', size: 10, fill: '#FF00FF', stroke: '#600060' },
  { shape: 'circle', size: 7, fill: '#FF88BB', stroke: '#000' },
  { shape: 'circle', size: 10, fill: '#FF0000', stroke: '#A00000' },
  { shape: 'circle', size: 12, fill: '#C58BE6', stroke: '#8A4FB8' },
  { shape: 'circle', size: 14, fill: '#3366FF', stroke: '#1A237E' },
  { shape: 'diamond', size: 8, fill: '#FF9900', stroke: '#FF9900', line: '#FF9900', lw: 1.5 },
  { shape: 'circle', size: 12, fill: '#00C8FF', stroke: '#00C8FF' },
  { shape: 'diamond', size: 9, fill: '#FFFF00', stroke: '#000' },
  { shape: 'circle', size: 10, fill: '#FFF', stroke: '#000', line: '#808080', lw: 1.5 },
  { shape: 'diamond', size: 8, fill: '#00E5E5', stroke: '#000' },
  { shape: 'diamond', size: 10, fill: '#FFC000', stroke: '#000' }
];
legend({ box: { l: 758, t: 533, w: 285, h: 340 }, labels: LAB_B, syms: symB, x0: 786, tx: 813, y0: 550, dy: 25.5, lw: 39, lh: 26, font: "22px 'DejaVu Sans'" });

const symC = [
  { shape: 'rect', size: 6, fill: '#00CC00', stroke: '#008800', line: '#00CC00', lw: 1.5 },
  { shape: 'circle', size: 12, fill: '#000', stroke: '#000' },
  { shape: 'rect', size: 9, fill: '#FF00FF', stroke: '#600060' },
  { shape: 'circle', size: 5, fill: '#FF0000', stroke: '#CC0000' },
  { shape: 'circle', size: 12, fill: '#C080F0', stroke: '#8040B0', line: '#B070E0', lw: 1.5 },
  { shape: 'circle', size: 12, fill: '#3060F0', stroke: '#102080' },
  { shape: 'circle', size: 12, fill: '#FF9900', stroke: '#FF9900', line: '#FF9900', lw: 2 },
  { shape: 'diamond', size: 5, fill: '#00BFFF', stroke: '#00BFFF', line: '#00BFFF', lw: 2 },
  { shape: 'circle', size: 12, fill: '#FFFF00', stroke: '#000', line: '#FFFF00', lw: 2 },
  { shape: 'circle', size: 8, fill: '#FFF', stroke: '#000', line: '#909090', lw: 1.5 },
  { shape: 'circle', size: 6, fill: '#FF88BB', stroke: '#C06080' },
  { shape: 'circle', size: 4, fill: '#00E0E0', stroke: '#000', line: '#00E0E0', lw: 1.5 },
  { shape: 'diamond', size: 5, fill: '#FFC000', stroke: '#806000' }
];
legend({ box: { l: 376, t: 938, w: 199, h: 250 }, labels: LAB_C, syms: symC, x0: 397, tx: 419, y0: 951.7, dy: 17.97, lw: 32, lh: 18, font: "bold 19px 'Liberation Sans'" });

const symD = [
  { shape: 'rect', size: 12, fill: '#00DD00', stroke: '#006600', line: '#00DD00', lw: 2.5 },
  { shape: 'circle', size: 12, fill: '#000', stroke: '#000', line: '#000', lw: 2.5 },
  { shape: 'rect', size: 12, fill: '#FF00FF', stroke: '#600060', line: '#FF00FF', lw: 2.5 },
  { shape: 'circle', size: 12, fill: '#FF0000', stroke: '#CC0000', line: '#FF0000', lw: 2.5 },
  { shape: 'circle', size: 12, fill: '#C090E8', stroke: '#9060C0', line: '#C090E8', lw: 3 },
  { shape: 'circle', size: 12, fill: '#3366FF', stroke: '#1A237E', line: '#3366FF', lw: 2.5 },
  { shape: 'diamond', size: 6, fill: '#00C8FF', stroke: '#00C8FF', line: '#00C8FF', lw: 3 },
  { shape: 'circle', size: 12, fill: '#FFF', stroke: '#000', line: '#999', lw: 3 },
  { shape: 'circle', size: 12, fill: '#F090B8', stroke: '#C06088', line: '#FFAACC', lw: 2 },
  { shape: 'circle', size: 8, fill: '#00E5E5', stroke: '#000', line: '#00E5E5', lw: 2 },
  { shape: 'diamond', size: 12, fill: '#FFC000', stroke: '#000', line: '#FFC000', lw: 2.5 }
];
legend({ box: { l: 943, t: 948, w: 210, h: 207 }, labels: LAB_D, syms: symD, x0: 966, tx: 988, y0: 961.7, dy: 17.8, lw: 35, lh: 18, font: "bold 19px 'Liberation Sans'" });
</script>
</body></html>
